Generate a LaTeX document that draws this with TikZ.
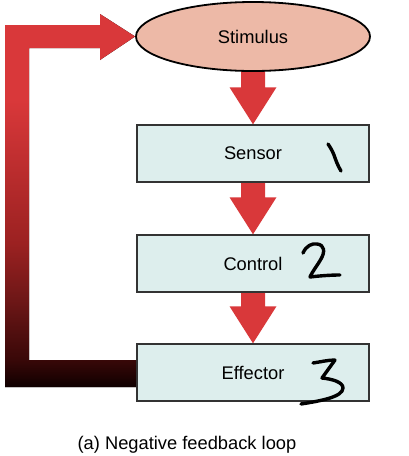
\documentclass[tikz,border=0pt]{standalone}
\usepackage{fontspec}
\setmainfont{Liberation Sans}
\usetikzlibrary{shapes.geometric,calc,backgrounds}
\definecolor{arrowred}{HTML}{D9383A}
\definecolor{boxfill}{HTML}{DDEEED}
\definecolor{boxline}{HTML}{333333}
\definecolor{stimfill}{HTML}{EDB9A7}
\definecolor{fbA}{rgb}{0.06,0,0}
\definecolor{fbB}{rgb}{0.22,0.03,0.03}
\definecolor{fbC}{rgb}{0.43,0.09,0.09}
\definecolor{fbD}{rgb}{0.61,0.13,0.13}
\pgfdeclareverticalshading{fbshade}{100bp}{color(0bp)=(fbA); color(25bp)=(fbA); color(28.6bp)=(fbB); color(36.7bp)=(fbC); color(44.3bp)=(fbD); color(63.5bp)=(arrowred); color(100bp)=(arrowred)}
\newcommand\fatdown[2]{%
  \fill[arrowred] ($(#1.south)+(-12,-4)$) -- ($(#2.north)+(-12,-37)$) -- ($(#2.north)+(-23.5,-37)$) -- (#2.north) -- ($(#2.north)+(23.5,-37)$) -- ($(#2.north)+(12,-37)$) -- ($(#1.south)+(12,-4)$) -- cycle;}
\tikzset{
  stagebox/.style={draw=boxline, line width=1.4pt, fill=boxfill, minimum width=232pt, minimum height=57pt, inner sep=0pt},
  stimshape/.style={ellipse, draw=black, line width=1.8pt, fill=stimfill, minimum width=234pt, minimum height=69pt, inner sep=0pt},
  hand/.style={draw=black, line width=3.4pt, line cap=round, line join=round},
}
\begin{document}
\begin{tikzpicture}[x=1pt,y=-1pt,font=\fontsize{18.3}{22}\selectfont]
\useasboundingbox (0,0) rectangle (409,456);
\node[stimshape] (stim) at (253,36.5) {Stimulus};
\node[stagebox] (sensor) at (253,153.5) {Sensor};
\node[stagebox] (control) at (253,263.5) {Control};
\node[stagebox] (effector) at (253,372.5) {Effector};
\node (caption) at (187,445) {(a) Negative feedback loop};
\begin{scope}[on background layer]
  \fatdown{stim}{sensor}
  \fatdown{sensor}{control}
  \fatdown{control}{effector}
  \fill[shading=fbshade] ($(effector.west)+(4,14.5)$) -- (5,387) -- (5,25) -- (100,25) -- (100,14) -- (stim.west) -- (100,60) -- (100,48) -- (29,48) -- (29,360) -- ($(effector.west)+(4,-12.5)$) -- cycle;
\end{scope}
% handwritten numbers
\draw[hand] (328,144) .. controls (330,147) and (332,150) .. (334,155) .. controls (336,161) and (338,166) .. (341,171);
\draw[hand] (303,253) .. controls (306,246) and (312,243) .. (317,244) .. controls (325,245) and (325,252) .. (321,259) .. controls (317,266) and (312,272) .. (310,277) .. controls (318,276) and (330,275) .. (340,275);
\draw[hand] (313,363) .. controls (320,362) and (328,360) .. (335,360) -- (322,378) .. controls (332,379) and (343,382) .. (343,388) .. controls (343,397) and (320,401) .. (301,404);
\end{tikzpicture}
\end{document}
